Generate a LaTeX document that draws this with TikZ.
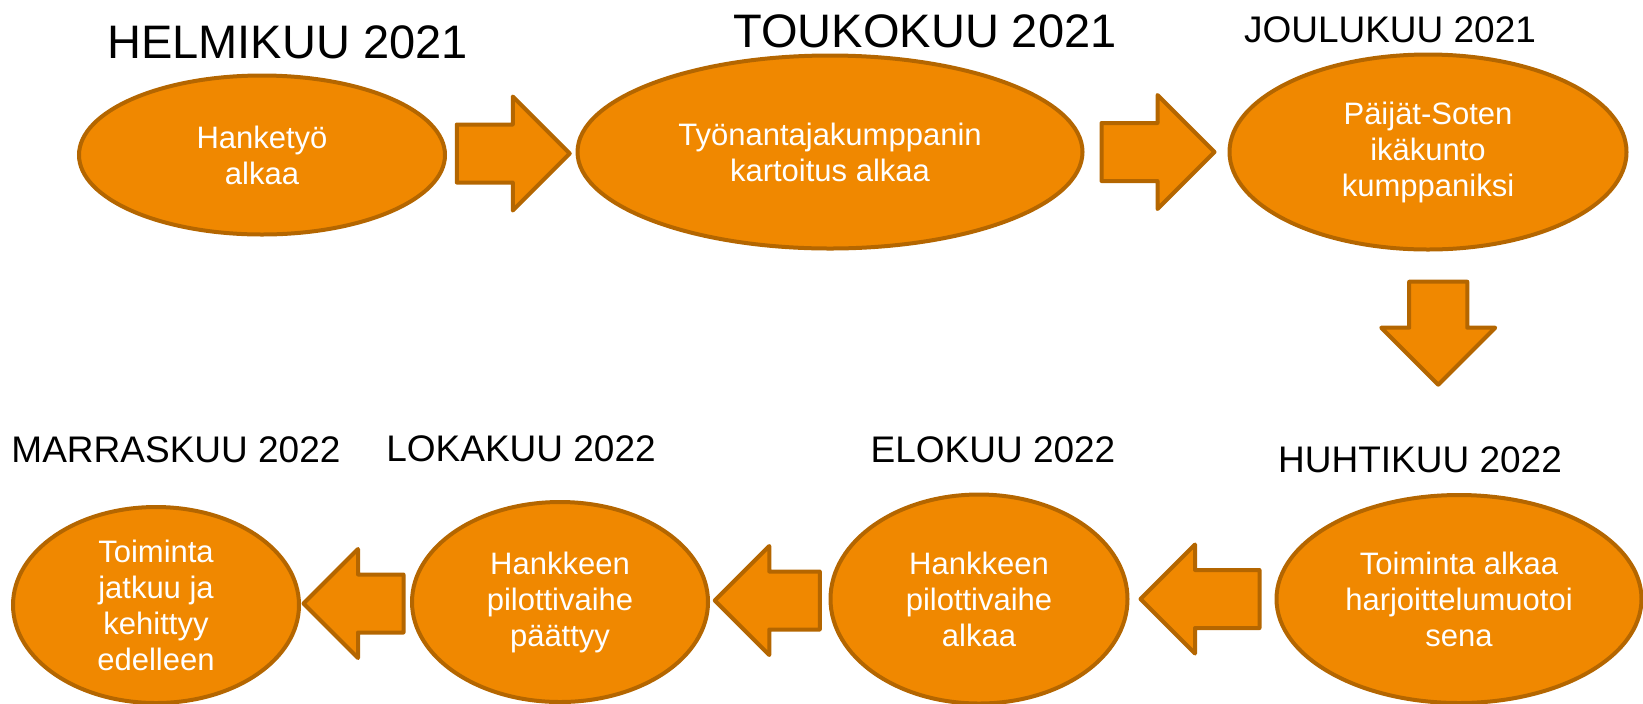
\documentclass[tikz,border=0pt]{standalone}
\usepackage{fontspec}
\setmainfont{Liberation Sans}
\usetikzlibrary{calc,positioning,shapes.geometric,shapes.arrows}
\definecolor{hankeoranssi}{RGB}{240,136,0}
\definecolor{reunaruskea}{RGB}{180,102,0}
\tikzset{
  vaihe/.style={
    ellipse,
    draw=reunaruskea,
    line width=2pt,
    fill=hankeoranssi,
    text=white,
    align=center,
    inner sep=0pt,
    font=\fontsize{15.5}{18}\selectfont
  },
  kuu/.style={
    anchor=base,
    inner sep=0pt,
    font=\fontsize{18.5}{22}\selectfont
  },
  isokuu/.style={
    kuu,
    font=\fontsize{23.5}{28}\selectfont
  },
  nuoli/.style={
    single arrow,
    anchor=tail,
    draw=reunaruskea,
    line width=2pt,
    line join=round,
    fill=hankeoranssi,
    inner xsep=0pt,
    inner ysep=13.5pt,
    single arrow head extend=14pt,
    single arrow head indent=0pt
  }
}

\begin{document}
\begin{tikzpicture}[x=0.5pt,y=-0.5pt]
\useasboundingbox (0,0) rectangle (1643,703);
\node[vaihe, minimum width=183pt, minimum height=79.5pt] (e1) at (262,155) {Hanketyö\\alkaa};
\node[vaihe, minimum width=252.5pt, minimum height=96.5pt] (e2) at (830,152) {Työnantajakumppanin\\kartoitus alkaa};
\node[vaihe, minimum width=198.5pt, minimum height=97.5pt] (e3) at (1428,152) {Päijät-Soten\\ikäkunto\\kumppaniksi};
\node[vaihe, minimum width=182.5pt, minimum height=104pt] (e4) at (1459,599) {Toiminta alkaa\\harjoittelumuotoi\\sena};
\node[vaihe, minimum width=148.5pt, minimum height=104.5pt] (e5) at (979,599) {Hankkeen\\pilottivaihe\\alkaa};
\node[vaihe, minimum width=148pt, minimum height=100pt] (e6) at (560,602) {Hankkeen\\pilottivaihe\\päättyy};
\node[vaihe, minimum width=143pt, minimum height=98pt] (e7) at (156,605) {Toiminta\\jatkuu ja\\kehittyy\\edelleen};
\node[isokuu] (helmikuu) at (287.5,58) {HELMIKUU 2021};
\node[isokuu] (toukokuu) at (925,47) {TOUKOKUU 2021};
\node[kuu] (joulukuu) at (1390,42) {JOULUKUU 2021};
\node[kuu] (huhtikuu) at (1420,472) {HUHTIKUU 2022};
\node[kuu] (elokuu) at (993,462) {ELOKUU 2022};
\node[kuu] (lokakuu) at (521,461) {LOKAKUU 2022};
\node[kuu] (marraskuu) at (176,462) {MARRASKUU 2022};
\node[nuoli, minimum height=56.5pt] (n1) at ($(e1.east)!.5!(e2.west)+(-56.5,0)$) {};
\node[nuoli, minimum height=56.5pt] (n2) at ($(e2.east)!.5!(e3.west)+(-56.5,0)$) {};
\node[nuoli, minimum height=51.5pt, rotate=-90] (n3) at ($(e3.south)!.33!(e4.north)+(0,-51.5)$) {};
\node[nuoli, minimum height=59.5pt, single arrow head extend=12.75pt, rotate=180] (n4) at ($(e4.west)!.5!(e5.east)+(59.5,0)$) {};
\node[nuoli, minimum height=52.5pt, single arrow head extend=12.75pt, rotate=180] (n5) at ($(e5.west)!.5!(e6.east)+(52.5,0)$) {};
\node[nuoli, minimum height=50pt, single arrow head extend=12.75pt, rotate=180] (n6) at ($(e6.west)!.5!(e7.east)+(50,0)$) {};
\end{tikzpicture}
\end{document}
